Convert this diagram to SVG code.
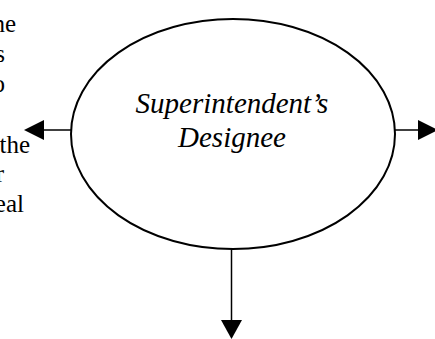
<svg xmlns="http://www.w3.org/2000/svg" width="435" height="339" viewBox="0 0 435 339">
<style>
.edge{stroke:#000;stroke-width:1.5;fill:none}
.head{fill:#000;stroke:none}
.side{font-family:"Liberation Serif","Times New Roman",serif;font-size:25px;fill:#000;text-anchor:end}
.lbl{font-family:"Liberation Serif","Times New Roman",serif;font-size:29px;font-style:italic;fill:#000;text-anchor:middle}
</style>
<rect width="435" height="339" fill="#fff"/>
<g id="side-text">
<text class="side" x="16" y="32">he</text>
<text class="side" x="5" y="62">s</text>
<text class="side" x="5" y="92">o</text>
<text class="side" x="30" y="153">the</text>
<text class="side" x="4" y="182">r</text>
<text class="side" x="24" y="212">eal</text>
</g>
<g id="designee">
<ellipse cx="233" cy="134" rx="162" ry="115" fill="#fff" stroke="#000" stroke-width="2"/>
<text class="lbl" x="232" y="113">Superintendent’s</text>
<text class="lbl" x="232" y="147">Designee</text>
</g>
<g id="connectors">
<line class="edge" x1="71" y1="130" x2="43" y2="130"/>
<polygon class="head" points="24,130 44,120 44,140"/>
<line class="edge" x1="395" y1="130" x2="419" y2="130"/>
<polygon class="head" points="438,130 418,120 418,140"/>
<line class="edge" x1="231.5" y1="249" x2="231.5" y2="321"/>
<polygon class="head" points="231.5,339 221,320 242,320"/>
</g>
</svg>
